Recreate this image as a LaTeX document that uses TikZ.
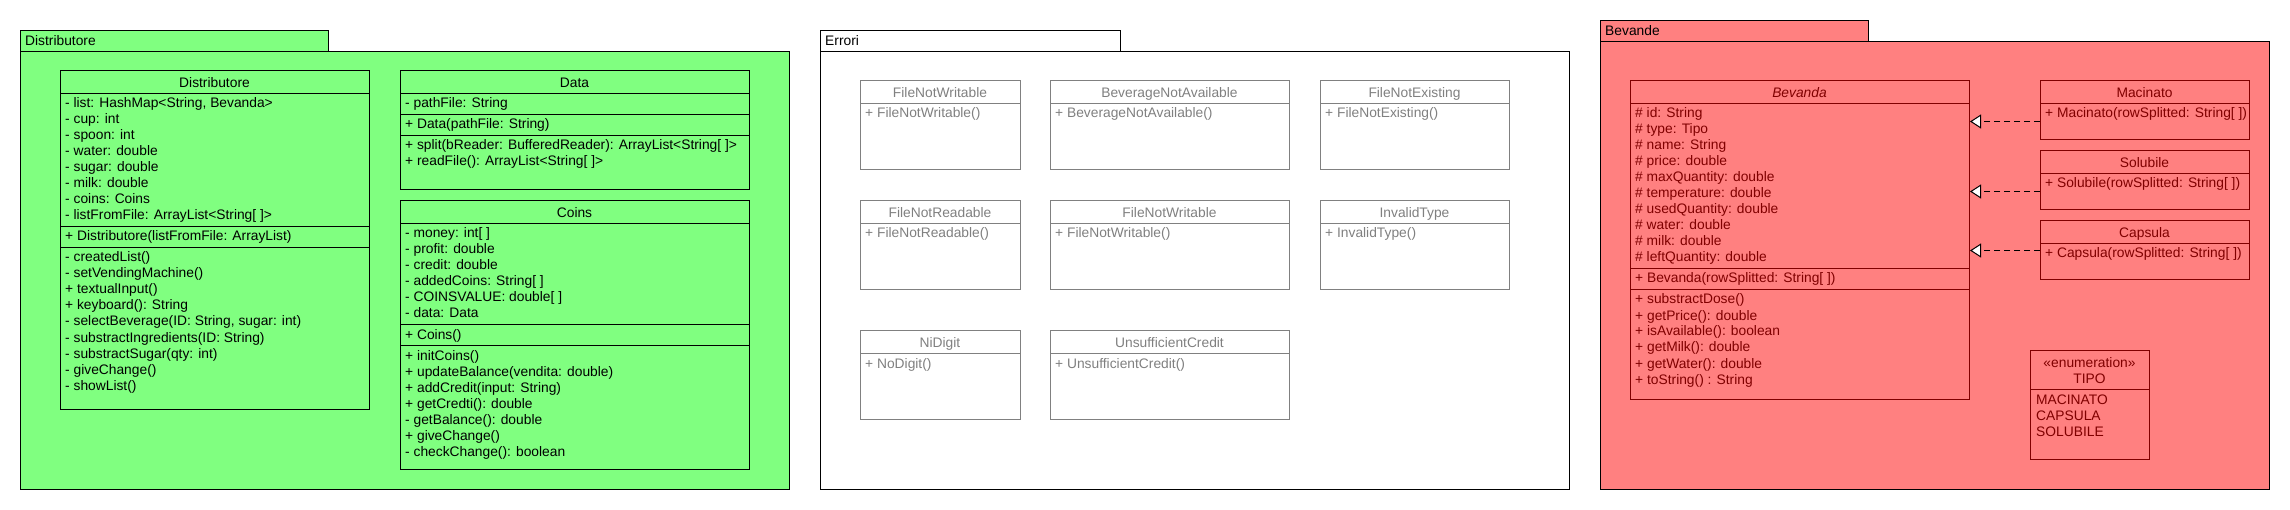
\documentclass[tikz,border=0pt]{standalone}
\usepackage{fontspec}
\setmainfont{Liberation Sans}
\usetikzlibrary{arrows.meta,positioning}
\definecolor{cGreen}{RGB}{128,255,128}
\definecolor{cRed}{RGB}{255,128,128}
\definecolor{cDark}{RGB}{128,0,0}
\definecolor{cGrey}{RGB}{128,128,128}

\tikzset{
  pkgbox/.style={draw=black, line width=1pt, rectangle, inner sep=0pt, anchor=north west},
  clsbox/.style={draw, line width=1pt, rectangle, inner sep=0pt, anchor=north west},
  member/.style={inner sep=0pt, font=\fontsize{13.8}{16}\selectfont, anchor=base west},
  title/.style={inner sep=0pt, font=\fontsize{13.8}{16}\selectfont, anchor=base},
  realize/.style={line width=1pt, dash pattern=on 6pt off 4pt,
    -{Triangle[length=11pt,width=14pt,fill=white]}}
}

% box with top left corner and bottom right corner, in pixels
\newcommand{\classbox}[6][clsbox]{%
  \node[#1, minimum width={(#5-#3)*1pt}, minimum height={(#6-#4)*1pt}] (#2) at (#3,#4) {};}
% one line per member, first baseline given
\newcommand{\members}[4]{%
  \foreach \m [count=\k] in {#4}
    \node[member] (#1\k) at (#2, #3+16*\k-16) {\m};}

\begin{document}
\begin{tikzpicture}[x=1pt,y=-1pt]
  \useasboundingbox (0,0) rectangle (2290,510);

  % Package Distributore
  \classbox[pkgbox, fill=cGreen]{pkgDistTab}{20}{30}{328}{51}
  \classbox[pkgbox, fill=cGreen]{pkgDist}{20}{51}{789}{489}
  \node[member] (pkgDistLbl) at (25,46) {Distributore};

  % Distributore
  \classbox{dist}{60}{70}{369}{409}
  \node[title] (distT) at (214.5,87.7) {Distributore};
  \draw (60,93) -- (369,93) (60,226) -- (369,226) (60,247) -- (369,247);
  \members{distA}{65}{108}{{- list: HashMap<String, Bevanda>}, - cup: int, - spoon: int,
    - water: double, - sugar: double, - milk: double, - coins: Coins,
    - listFromFile: ArrayList<String[ ]>}
  \members{distC}{65}{241}{+ Distributore(listFromFile: ArrayList)}
  \members{distM}{65}{262}{- createdList(), - setVendingMachine(), + textualInput(),
    + keyboard(): String, {- selectBeverage(ID: String, sugar: int)},
    - substractIngredients(ID: String), - substractSugar(qty: int), - giveChange(), - showList()}

  % Data
  \classbox{data}{400}{70}{749}{189}
  \node[title] (dataT) at (574.5,87.7) {Data};
  \draw (400,93) -- (749,93) (400,114) -- (749,114) (400,135) -- (749,135);
  \members{dataA}{405}{108}{- pathFile: String}
  \members{dataC}{405}{129}{+ Data(pathFile: String)}
  \members{dataM}{405}{150}{+ split(bReader: BufferedReader): ArrayList<String[ ]>,
    + readFile(): ArrayList<String[ ]>}

  % Coins
  \classbox{coins}{400}{200}{749}{469}
  \node[title] (coinsT) at (574.5,217.7) {Coins};
  \draw (400,223) -- (749,223) (400,324) -- (749,324) (400,345) -- (749,345);
  \members{coinsA}{405}{238}{- money: int[ ], - profit: double, - credit: double,
    - addedCoins: String[ ], - COINSVALUE: double[ ], - data: Data}
  \members{coinsC}{405}{339}{+ Coins()}
  \members{coinsM}{405}{360}{+ initCoins(), + updateBalance(vendita: double),
    + addCredit(input: String), + getCredti(): double, - getBalance(): double,
    + giveChange(), - checkChange(): boolean}

  % Package Errori
  \classbox[pkgbox, fill=white]{pkgErrTab}{820}{30}{1120}{51}
  \classbox[pkgbox, fill=white]{pkgErr}{820}{51}{1569}{489}
  \node[member] (pkgErrLbl) at (825,46) {Errori};

  \begin{scope}[color=cGrey]
    \foreach \xa/\xb/\ya/\cname/\cctor/\id in {
      860/1020/80/FileNotWritable/FileNotWritable/errA,
      1050/1289/80/BeverageNotAvailable/BeverageNotAvailable/errB,
      1320/1509/80/FileNotExisting/FileNotExisting/errC,
      860/1020/200/FileNotReadable/FileNotReadable/errD,
      1050/1289/200/FileNotWritable/FileNotWritable/errE,
      1320/1509/200/InvalidType/InvalidType/errF,
      860/1020/330/NiDigit/NoDigit/errG,
      1050/1289/330/UnsufficientCredit/UnsufficientCredit/errH}{
      \classbox{\id}{\xa}{\ya}{\xb}{\ya+89}
      \draw (\xa,\ya+23) -- (\xb,\ya+23);
      \node[title] (\id-t) at ({(\xa+\xb)/2},\ya+17.7) {\cname};
      \node[member] (\id-c) at (\xa+5,\ya+38) {+ \cctor()};
    }
  \end{scope}

  % Package Bevande
  \classbox[pkgbox, fill=cRed]{pkgBevTab}{1600}{20}{1868}{41}
  \classbox[pkgbox, fill=cRed]{pkgBev}{1600}{41}{2269}{489}
  \node[member] (pkgBevLbl) at (1605,36) {Bevande};

  \begin{scope}[color=cDark]
    % Bevanda
    \classbox{bev}{1630}{80}{1969}{399}
    \node[title] (bevT) at (1799.5,97.7) {\itshape Bevanda};
    \draw (1630,103) -- (1969,103) (1630,268) -- (1969,268) (1630,289) -- (1969,289);
    \members{bevA}{1635}{118}{\# id: String, \# type: Tipo, \# name: String, \# price: double,
      \# maxQuantity: double, \# temperature: double, \# usedQuantity: double,
      \# water: double, \# milk: double, \# leftQuantity: double}
    \members{bevC}{1635}{283}{+ Bevanda(rowSplitted: String[ ])}
    \members{bevM}{1635}{304}{+ substractDose(), + getPrice(): double, + isAvailable(): boolean,
      + getMilk(): double, + getWater(): double, + toString() : String}

    % sub classes
    \foreach \ya/\cname/\id in {80/Macinato/mac, 150/Solubile/sol, 220/Capsula/cap}{
      \classbox{\id}{2040}{\ya}{2249}{\ya+59}
      \draw (2040,\ya+23) -- (2249,\ya+23);
      \node[title] (\id-t) at (2144.5,\ya+17.7) {\cname};
      \node[member] (\id-c) at (2045,\ya+38) {+ \cname(rowSplitted: String[ ])};
    }

    % TIPO
    \classbox{tipo}{2030}{350}{2149}{459}
    \node[title] (tipoS) at (2089.5,367.7) {«enumeration»};
    \node[title] (tipoT) at (2089.5,383.7) {TIPO};
    \draw (2030,389) -- (2149,389);
    \members{tipoV}{2036}{404}{MACINATO, CAPSULA, SOLUBILE}
  \end{scope}

  % realizations
  \draw[realize] ([yshift=-11.5pt]mac.west) -- ([yshift=-11.5pt]mac.west -| bev.east);
  \draw[realize] ([yshift=-11.5pt]sol.west) -- ([yshift=-11.5pt]sol.west -| bev.east);
  \draw[realize] ([yshift=-0.5pt]cap.west) -- ([yshift=-0.5pt]cap.west -| bev.east);
\end{tikzpicture}
\end{document}
